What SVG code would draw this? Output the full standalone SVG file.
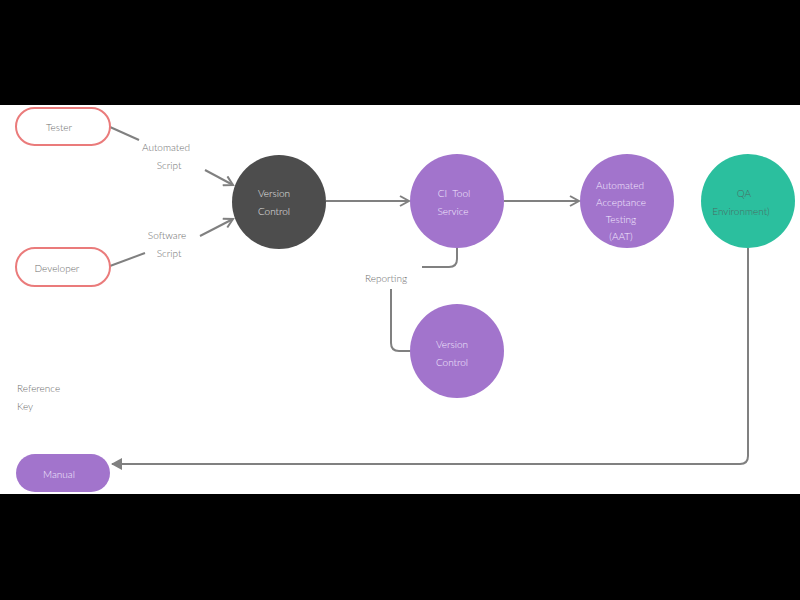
<svg xmlns="http://www.w3.org/2000/svg" width="800" height="600" viewBox="0 0 800 600">
<defs>
<style>
text{font-family:Lato,"Open Sans","Liberation Sans",sans-serif;font-size:10px;font-weight:300;text-anchor:middle}
.lbl{fill:#6e6e6e}
.wt{fill:#f3eaff}
.pill{fill:#fff;stroke:#ea7b7b;stroke-width:2}
.conn{fill:none;stroke:#808080;stroke-width:2}
</style>
<marker id="open" markerWidth="12" markerHeight="12" refX="10" refY="6" orient="auto" markerUnits="userSpaceOnUse">
<path d="M1,1 L10,6 L1,11" fill="none" stroke="#808080" stroke-width="2"/>
</marker>
<marker id="solid" markerWidth="12" markerHeight="12" refX="10" refY="6" orient="auto" markerUnits="userSpaceOnUse">
<path d="M0,0 L11,6 L0,12 Z" fill="#808080"/>
</marker>
</defs>
<rect x="0" y="0" width="800" height="600" fill="#000"/>
<rect x="0" y="105" width="800" height="389" fill="#fff"/>

<g id="connectors">
<line class="conn" x1="110" y1="127" x2="139" y2="140"/>
<line class="conn" x1="205" y1="170" x2="233" y2="185" marker-end="url(#open)"/>
<line class="conn" x1="110" y1="266" x2="145" y2="253"/>
<line class="conn" x1="200" y1="236" x2="233" y2="219" marker-end="url(#open)"/>
<line class="conn" x1="326" y1="201" x2="409" y2="201" marker-end="url(#open)"/>
<line class="conn" x1="504" y1="201" x2="579" y2="201" marker-end="url(#open)"/>
<path class="conn" d="M457,248 V259 Q457,267 449,267 H422"/>
<path class="conn" d="M391,289 V343 Q391,351 399,351 H410"/>
<path class="conn" d="M748,248 V456 Q748,464 740,464 H112" marker-end="url(#solid)"/>
<text class="lbl" x="166" y="151">Automated</text>
<text class="lbl" x="169" y="169">Script</text>
<text class="lbl" x="167" y="239">Software</text>
<text class="lbl" x="169" y="257">Script</text>
<text class="lbl" x="386" y="282">Reporting</text>
</g>

<g id="tester">
<rect class="pill" x="16" y="108" width="94" height="37" rx="18.5"/>
<text class="lbl" x="59" y="131">Tester</text>
</g>
<g id="developer">
<rect class="pill" x="16" y="248" width="94" height="38" rx="19"/>
<text class="lbl" x="57" y="272">Developer</text>
</g>
<g id="version-control">
<circle cx="279" cy="202" r="47" fill="#4d4d4d"/>
<text fill="#e6e6e6" x="274" y="197">Version</text>
<text fill="#e6e6e6" x="274" y="215">Control</text>
</g>
<g id="ci-tool">
<circle cx="457" cy="201" r="47" fill="#a274cc"/>
<text class="wt" x="454" y="197" xml:space="preserve">CI  Tool</text>
<text class="wt" x="453" y="215">Service</text>
</g>
<g id="aat">
<circle cx="627" cy="201" r="47" fill="#a274cc"/>
<text class="wt" x="620" y="189">Automated</text>
<text class="wt" x="621" y="206">Acceptance</text>
<text class="wt" x="621" y="223">Testing</text>
<text class="wt" x="621" y="240">(AAT)</text>
</g>
<g id="qa">
<circle cx="748" cy="201" r="47" fill="#2bbf9e"/>
<text fill="#4a6b63" x="744" y="197">QA</text>
<text fill="#4a6b63" x="741" y="215">Environment)</text>
</g>
<g id="version-control-2">
<circle cx="457" cy="351" r="47" fill="#a274cc"/>
<text class="wt" x="452" y="348">Version</text>
<text class="wt" x="452" y="366">Control</text>
</g>
<g id="reference-key">
<text class="lbl" x="17" y="392" style="text-anchor:start">Reference</text>
<text class="lbl" x="17" y="410" style="text-anchor:start">Key</text>
</g>
<g id="manual">
<rect x="16" y="454" width="94" height="38" rx="19" fill="#a274cc"/>
<text class="wt" x="59" y="478">Manual</text>
</g>
</svg>
